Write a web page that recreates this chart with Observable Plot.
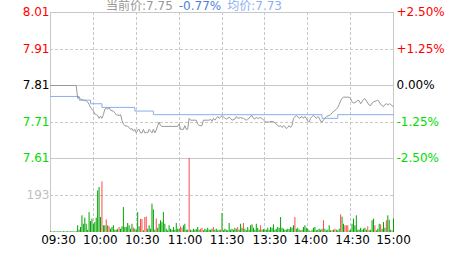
<!DOCTYPE html>
<html><head><meta charset="utf-8">
<script src="https://cdn.jsdelivr.net/npm/d3@7"></script>
<script src="https://cdn.jsdelivr.net/npm/@observablehq/plot@0.6"></script>
<style>
body{margin:0;background:#fff;}
#wrap{position:relative;width:463px;height:255px;overflow:hidden;font-family:"DejaVu Sans","Noto Sans CJK SC",sans-serif;}
#wrap svg{position:absolute;left:0;top:0;background:transparent;}
#hdr{position:absolute;left:106px;top:0;font-size:12px;line-height:12px;white-space:pre;z-index:2;}
#hdr span{margin-right:6px;}
</style></head><body><div id="wrap"><div id="hdr"></div></div>
<script>
// ---- data ----
const prevClose = 7.81;
const currentPrice = "7.75";
const changePct = "-0.77%";
const avgPrice = "7.73";
const headerLabels = ["当前价:", "均价:"];

const priceTicks = [8.01, 7.91, 7.81, 7.71, 7.61];
const priceTickLabels = ["8.01", "7.91", "7.81", "7.71", "7.61"];
const pctTickLabels = ["+2.50%", "+1.25%", "0.00%", "-1.25%", "-2.50%"];
const volumeTicks = [193];
const volumeMax = 386;
const timeTicks = [0, 30, 60, 90, 120, 150, 180, 210, 240];
const timeLabels = ["09:30", "10:00", "10:30", "11:00", "11:30", "13:30", "14:00", "14:30", "15:00"];

// [minute index, price]
const priceSeries = [[0,7.81],[18,7.81],[19,7.775],[20,7.778],[21,7.772],[23,7.77],[25,7.768],[26,7.765],[27,7.758],[28,7.75],[29,7.745],[30,7.74],[31,7.732],[32,7.73],[33,7.728],[34,7.72],[35,7.726],[36,7.72],[37,7.73],[38,7.745],[39,7.748],[40,7.745],[41,7.75],[42,7.742],[44,7.74],[45,7.735],[46,7.73],[48,7.728],[49,7.73],[50,7.715],[51,7.705],[52,7.70],[54,7.698],[55,7.695],[56,7.69],[57,7.692],[58,7.685],[59,7.69],[60,7.68],[61,7.688],[62,7.69],[63,7.68],[64,7.68],[65,7.69],[66,7.68],[67,7.682],[68,7.68],[69,7.69],[70,7.685],[71,7.68],[72,7.69],[73,7.68],[74,7.688],[75,7.70],[76,7.71],[77,7.70],[78,7.698],[89,7.698],[90,7.705],[91,7.69],[93,7.69],[94,7.70],[95,7.69],[96,7.69],[97,7.72],[98,7.715],[102,7.715],[103,7.705],[104,7.70],[106,7.70],[107,7.715],[111,7.715],[112,7.718],[113,7.712],[114,7.72],[115,7.715],[116,7.72],[117,7.725],[118,7.72],[119,7.723],[120,7.728],[122,7.72],[123,7.718],[125,7.723],[126,7.72],[127,7.715],[129,7.718],[130,7.725],[131,7.72],[133,7.722],[135,7.72],[137,7.715],[138,7.718],[139,7.72],[140,7.726],[141,7.728],[142,7.72],[143,7.718],[144,7.723],[145,7.72],[147,7.722],[148,7.72],[149,7.715],[150,7.712],[151,7.71],[153,7.71],[155,7.712],[157,7.708],[158,7.705],[159,7.70],[160,7.698],[161,7.70],[162,7.695],[163,7.70],[164,7.698],[165,7.692],[166,7.695],[167,7.70],[168,7.695],[169,7.70],[170,7.72],[172,7.728],[174,7.72],[176,7.725],[177,7.72],[178,7.725],[179,7.72],[180,7.712],[181,7.71],[182,7.72],[183,7.725],[184,7.728],[186,7.72],[187,7.725],[188,7.722],[189,7.712],[190,7.71],[191,7.715],[192,7.72],[193,7.725],[195,7.728],[196,7.73],[197,7.735],[199,7.742],[200,7.745],[201,7.75],[202,7.758],[203,7.768],[204,7.775],[205,7.778],[209,7.778],[210,7.774],[211,7.765],[212,7.762],[214,7.765],[215,7.77],[216,7.768],[217,7.76],[218,7.765],[219,7.772],[220,7.774],[221,7.768],[222,7.762],[223,7.756],[224,7.755],[225,7.762],[226,7.765],[228,7.768],[229,7.77],[230,7.765],[231,7.758],[232,7.755],[233,7.752],[234,7.758],[235,7.76],[236,7.757],[237,7.76],[238,7.758],[239,7.755],[240,7.752]];

const avgMinutes = [0, 20, 28, 36, 59, 72, 190, 201, 240];
const avgValues  = [7.78, 7.77, 7.76, 7.75, 7.74, 7.73, 7.72, 7.73, 7.73];

const volume = [
  4,3,3,4,3,3,4,3,3,4,
  3,3,4,3,3,4,3,3,4,35,
  12,26,87,43,75,43,12,104,57,70,
  43,52,75,217,235,78,264,35,35,66,
  35,30,17,26,35,12,12,17,26,17,
  30,130,26,26,47,35,17,43,23,17,
  12,104,30,68,68,9,78,80,17,35,
  17,148,118,12,70,22,43,61,52,104,
  43,17,9,35,17,12,26,12,47,17,
  17,30,22,35,43,12,12,386,12,9,
  17,12,15,26,12,17,22,9,17,12,
  22,12,12,17,26,12,17,9,12,12,
  99,9,17,12,9,47,12,17,12,22,
  17,26,12,43,22,47,17,9,26,12,
  35,40,22,12,43,22,12,35,12,15,
  12,12,22,12,26,22,40,12,17,26,
  22,78,22,17,12,12,17,15,26,22,
  35,78,17,22,12,9,12,26,35,22,
  17,9,4,12,22,26,9,12,17,12,
  17,61,17,9,12,35,9,9,12,17,
  12,9,17,92,80,43,35,35,35,9,
  12,43,70,35,87,12,12,22,12,17,
  22,12,30,9,12,61,70,35,9,17,
  43,40,17,52,22,61,87,64,12,9,
  70
];
const volumeSide = (
  "gggggggggg" + "gggggggggg" + "gggggggggg" + "ggggggrggr" + "grggggggrg" +
  "ggggggggrg" + "gggrrgrrgg" + "ggggrggggg" + "gggggggggg" + "grrggggrgg" +
  "gggggrrggg" + "ggggrggggr" + "gggggggggg" + "grgggrgggg" + "gggggggrgg" +
  "gggggggggg" + "gggggggggg" + "grgggrgggg" + "ggrggggggg" + "grgggggrgr" +
  "gggrggrrrg" + "gggggggggg" + "ggrggggrgg" + "grgggrgggr" + "g"
).split("");

// ---- styles ----
const GRID = "#c8c8c8";
const RED = "#ff0000", GREEN = "#00dd00", BLACK = "#000000";
const UPBAR = "#ff4a4a", DOWNBAR = "#00a300";
const labelColor = p => p > prevClose + 1e-9 ? RED : (p < prevClose - 1e-9 ? GREEN : BLACK);
const W = 463, H = 255, ML = 50, MR = 70;

const priceData = priceSeries.map(([m, p]) => ({m, p}));
const avgData = avgMinutes.map((m, i) => ({m, p: avgValues[i]}));
const volData = volume.map((v, i) => ({m: i, v, up: volumeSide[i] === "r"}));
const innerTimes = timeTicks.slice(1, -1);
const edgeTimes = [timeTicks[0], timeTicks[timeTicks.length - 1]];
const solidPrice = priceTicks.filter((d, i) => i % 2 === 0);
const dashedPrice = priceTicks.filter((d, i) => i % 2 === 1);
const fontStyle = {fontFamily: "'DejaVu Sans', sans-serif", fontSize: "12px", background: "transparent", overflow: "visible"};

const pricePlot = Plot.plot({
  width: W, height: H,
  marginLeft: ML, marginRight: MR, marginTop: 12, marginBottom: 97,
  x: {domain: [0, 240], axis: null},
  y: {domain: [7.61, 8.01], axis: null},
  color: {type: "identity"},
  style: fontStyle,
  marks: [
    Plot.ruleX(innerTimes, {x: d => d, stroke: GRID, strokeDasharray: "3,2", shapeRendering: "crispEdges"}),
    Plot.ruleY(dashedPrice, {y: d => d, stroke: GRID, strokeDasharray: "3,2", shapeRendering: "crispEdges"}),
    Plot.ruleY(solidPrice, {y: d => d, stroke: GRID, shapeRendering: "crispEdges"}),
    Plot.ruleX(edgeTimes, {x: d => d, stroke: GRID, shapeRendering: "crispEdges"}),
    Plot.line(avgData, {x: "m", y: "p", stroke: "#8cadec", strokeWidth: 1, curve: "step-after"}),
    Plot.line(priceData, {x: "m", y: "p", stroke: "#999999", strokeWidth: 1}),
    Plot.text(priceTicks, {y: d => d, text: (d, i) => priceTickLabels[i], frameAnchor: "left", textAnchor: "end", dx: -1, fill: d => labelColor(d), lineAnchor: "middle"}),
    Plot.text(priceTicks, {y: d => d, text: (d, i) => pctTickLabels[i], frameAnchor: "right", textAnchor: "start", dx: 3, fill: d => labelColor(d), lineAnchor: "middle"})
  ]
});

const labelDx = [8, 7, 6, 6, 5, 5, 3, 2, 0];
const volPlot = Plot.plot({
  width: W, height: H,
  marginLeft: ML, marginRight: MR, marginTop: 158, marginBottom: 23,
  x: {domain: [0, 240], axis: null},
  y: {domain: [0, volumeMax], axis: null},
  color: {type: "identity"},
  style: fontStyle,
  marks: [
    Plot.ruleX(innerTimes, {x: d => d, stroke: GRID, strokeDasharray: "3,2", shapeRendering: "crispEdges"}),
    Plot.ruleY(volumeTicks, {y: d => d, stroke: GRID, strokeDasharray: "3,2", shapeRendering: "crispEdges"}),
    Plot.ruleX(edgeTimes, {x: d => d, stroke: GRID, shapeRendering: "crispEdges"}),
    Plot.ruleX(volData.filter(d => !d.up), {x: "m", y1: 0, y2: "v", stroke: DOWNBAR, strokeWidth: 1}),
    Plot.ruleX(volData.filter(d => d.up), {x: "m", y1: 0, y2: "v", stroke: UPBAR, strokeWidth: 1}),
    Plot.text(volumeTicks, {y: d => d, text: d => String(d), frameAnchor: "left", textAnchor: "end", dx: -1, fill: "#c0c0c0", lineAnchor: "middle"}),
    ...timeLabels.map((t, i) => Plot.text([t], {x: timeTicks[i], text: d => d, frameAnchor: "bottom", lineAnchor: "middle", dy: 8, dx: labelDx[i], fill: "#000"}))
  ]
});

const wrap = document.getElementById("wrap");
wrap.appendChild(pricePlot);
wrap.appendChild(volPlot);

const hdr = document.getElementById("hdr");
const parts = [
  [headerLabels[0] + currentPrice, "#999999"],
  [changePct, "#4f7fdc"],
  [headerLabels[1] + avgPrice, "#8fb0ee"]
];
for (const [t, c] of parts) {
  const s = document.createElement("span");
  s.textContent = t;
  s.style.color = c;
  hdr.appendChild(s);
}
</script>
</body></html>
